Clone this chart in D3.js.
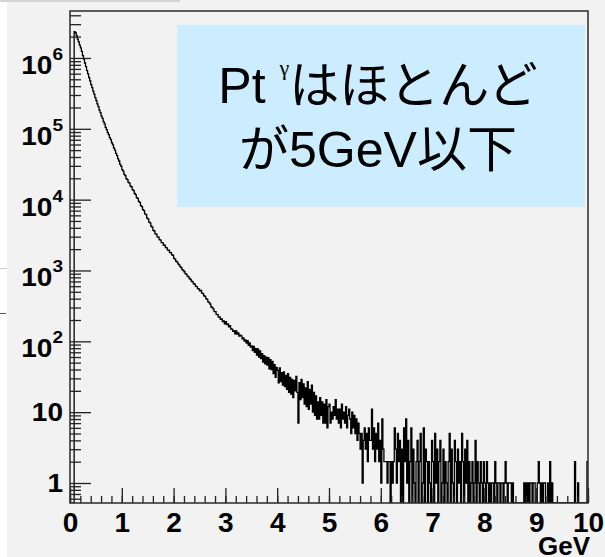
<!DOCTYPE html>
<html lang="ja">
<head>
<meta charset="utf-8">
<script src="https://d3js.org/d3.v7.min.js"></script>
<style>
  body { margin: 0; background: #fff; }
  svg text { font-family: "Liberation Sans", Arial, sans-serif; }
</style>
</head>
<body>
<div id="plot"></div>
<script>
// histogram: 500 bins of 0.02 GeV between 0 and 10 GeV
const xLo = 0, xHi = 10, binWidth = 0.02;
const counts0 = [ // 0 - 1 GeV
  0, 0, 0, 0, 2360000,
  2270000, 2060000, 1840000, 1690000, 1520000,
  1390000, 1240000, 1080000, 965000, 848000,
  755000, 664000, 597000, 528000, 476000,
  421000, 382000, 340000, 309000, 276000,
  251000, 225000, 205000, 184000, 169000,
  151000, 140000, 126000, 117000, 105000,
  97600, 88500, 82600, 75000, 70100,
  63500, 59200, 53600, 49900, 44900,
  41800, 37500, 35100, 31400, 29600];
const counts1 = [ // 1 - 2 GeV
  26500, 25200, 22800, 21800, 19800,
  19200, 17500, 17100, 15500, 15200,
  13800, 13400, 12200, 11800, 10700,
  10400, 9450, 9150, 8250, 7980,
  7210, 7010, 6300, 6130, 5500,
  5360, 4820, 4690, 4210, 4100,
  3680, 3610, 3290, 3250, 2980,
  2950, 2720, 2690, 2480, 2470,
  2290, 2270, 2110, 2090, 1940,
  1930, 1800, 1780, 1660, 1640];
const counts2 = [ // 2 - 3 GeV
  1480, 1450, 1350, 1320, 1240,
  1200, 1130, 1100, 1030, 1000,
  960, 905, 880, 830, 810,
  770, 750, 705, 690, 650,
  640, 600, 592, 555, 548,
  515, 525, 480, 470, 440,
  430, 400, 392, 360, 352,
  335, 305, 300, 285, 262,
  262, 240, 238, 220, 222,
  205, 208, 190, 194, 176];
const counts3 = [ // 3 - 4 GeV
  190, 172, 176, 160, 166,
  150, 148, 138, 141, 127,
  140, 126, 131, 118, 122,
  119, 108, 112, 101, 105,
  94, 102, 88, 95, 83,
  86, 74, 85, 70, 79,
  64, 78, 60, 73, 57,
  67, 51, 63, 48, 60,
  46, 59, 41, 55, 40,
  52, 35, 47, 31, 43];
const counts4 = [ // 4 - 5 GeV
  39, 26, 42, 27, 36,
  24, 37, 23, 33, 21,
  35, 19, 31, 18, 29,
  16, 28, 20, 32, 19,
  7, 26, 15, 29, 16,
  25, 13, 22, 12, 27,
  11, 21, 13, 24, 10,
  19, 9, 17, 8, 14,
  8, 16, 9, 14, 7,
  13, 7, 15, 6, 12];
const counts5 = [ // 5 - 6 GeV
  13, 7, 10, 8, 12,
  9, 15, 8, 11, 7,
  11, 6, 13, 8, 10,
  7, 12, 6, 9, 11,
  8, 5, 10, 6, 9,
  5, 8, 4, 7, 5,
  3, 5, 1, 4, 6,
  3, 5, 2, 6, 4,
  4, 11, 3, 6, 2,
  5, 3, 7, 2, 4];
const counts6 = [ // 6 - 7 GeV
  1, 8, 3, 2, 2,
  2, 1, 2, 2, 0,
  2, 1, 2, 6, 3,
  1, 5, 2, 4, 0,
  3, 0, 6, 2, 8,
  1, 4, 0, 2, 6,
  0, 3, 1, 0, 2,
  4, 0, 2, 5, 0,
  1, 6, 0, 3, 2,
  0, 2, 1, 0, 4];
const counts7 = [ // 7 - 8 GeV
  2, 0, 5, 1, 3,
  0, 2, 4, 0, 1,
  3, 0, 2, 1, 0,
  2, 5, 0, 3, 1,
  0, 4, 2, 0, 3,
  1, 2, 0, 5, 2,
  0, 3, 1, 4, 0,
  2, 0, 1, 2, 0,
  1, 4, 0, 2, 1,
  0, 2, 1, 0, 2];
const counts8 = [ // 8 - 9 GeV
  1, 0, 2, 1, 0,
  1, 0, 1, 1, 0,
  2, 1, 0, 1, 1,
  0, 1, 1, 0, 1,
  2, 1, 0, 1, 1,
  1, 0, 1, 0, 0,
  0, 0, 0, 0, 0,
  0, 0, 0, 1, 0,
  1, 0, 1, 0, 1,
  1, 0, 1, 1, 0];
const counts9 = [ // 9 - 10 GeV
  0, 1, 2, 1, 0,
  1, 0, 1, 1, 0,
  0, 1, 0, 2, 0,
  1, 0, 0, 0, 0,
  0, 0, 0, 0, 0,
  0, 0, 0, 0, 0,
  0, 0, 0, 0, 0,
  0, 0, 2, 0, 0,
  1, 0, 0, 0, 0,
  0, 0, 0, 0, 2];

const xTickValues = [0, 1, 2, 3, 4, 5, 6, 7, 8, 9, 10];
const yMajorValues = [1, 10, 100, 1e3, 1e4, 1e5, 1e6];
const yMajorLabels = [["1", ""], ["10", ""], ["10", "2"], ["10", "3"], ["10", "4"], ["10", "5"], ["10", "6"]];
const xTitle = "GeV";
const noteLine1 = ["Pt ", "γ", "はほとんど"];
const noteLine2 = "が5GeV以下";

const counts = [].concat(counts0, counts1, counts2, counts3, counts4,
                         counts5, counts6, counts7, counts8, counts9);

// layout
const W = 605, H = 557;
const frame = {left: 70, right: 588, top: 11, bottom: 503};
const yMin = 0.522, yMax = 4.6e6;

const svg = d3.select("#plot").append("svg")
  .attr("width", W).attr("height", H);

// slide background bits
svg.append("rect").attr("x", 0).attr("y", 0).attr("width", W).attr("height", H).attr("fill", "#fff");
svg.append("rect").attr("x", 7).attr("y", 0).attr("width", W - 7).attr("height", H).attr("fill", "#f2f2f2");
svg.append("rect").attr("x", 0).attr("y", 0).attr("width", 180).attr("height", 2).attr("fill", "#d4d4d4");
svg.append("line").attr("x1", 0).attr("x2", 7).attr("y1", 268.5).attr("y2", 268.5).attr("stroke", "#ccc");
svg.append("line").attr("x1", 0).attr("x2", 6).attr("y1", 313.5).attr("y2", 313.5).attr("stroke", "#555");

const x = d3.scaleLinear().domain([xLo, xHi]).range([frame.left, frame.right]);
const y = d3.scaleLog().domain([yMin, yMax]).range([frame.bottom, frame.top]);

svg.append("clipPath").attr("id", "clip")
  .append("rect")
    .attr("x", frame.left).attr("y", frame.top)
    .attr("width", frame.right - frame.left).attr("height", frame.bottom - frame.top);

// histogram outline
const pts = counts.map((c, i) => [x(xLo + i * binWidth), y(Math.max(c, yMin))]);
pts.push([x(xHi), y(Math.max(counts[counts.length - 1], yMin))]);
svg.append("path")
  .attr("clip-path", "url(#clip)")
  .attr("d", d3.line().curve(d3.curveStepAfter)(pts))
  .attr("fill", "none")
  .attr("stroke", "#000")
  .attr("stroke-width", 1.3);

// x axis: ticks pointing up, labels below
const xAxis = svg.append("g")
  .attr("transform", `translate(0,${frame.bottom})`)
  .call(d3.axisBottom(x).tickValues(x.ticks(50)).tickSizeInner(-7).tickSizeOuter(0).tickFormat(""));
const xAxisMajor = svg.append("g")
  .attr("transform", `translate(0,${frame.bottom})`)
  .call(d3.axisBottom(x).tickValues(xTickValues).tickSizeInner(-15).tickSizeOuter(0).tickPadding(9)
        .tickFormat(d => String(d)));
xAxisMajor.selectAll("text")
  .attr("font-size", 28).attr("font-weight", "bold").attr("fill", "#000")
  .style("font-family", "'Liberation Sans', Arial, sans-serif");
[xAxis, xAxisMajor].forEach(g => {
  g.select(".domain").remove();
  g.selectAll("line").attr("stroke", "#222").attr("stroke-width", 1.3);
});

// y axis: ticks pointing right
const yMinor = y.ticks().filter(v => !yMajorValues.includes(v));
const yAxisMinor = svg.append("g")
  .attr("transform", `translate(${frame.left},0)`)
  .call(d3.axisLeft(y).tickValues(yMinor).tickSizeInner(-11).tickSizeOuter(0).tickFormat(""));
const yAxisMajor = svg.append("g")
  .attr("transform", `translate(${frame.left},0)`)
  .call(d3.axisLeft(y).tickValues(yMajorValues).tickSizeInner(-21).tickSizeOuter(0).tickFormat(""));
[yAxisMinor, yAxisMajor].forEach(g => {
  g.select(".domain").remove();
  g.selectAll("line").attr("stroke", "#222").attr("stroke-width", 1.3);
});

yMajorValues.forEach((v, i) => {
  const [base, sup] = yMajorLabels[i];
  const yy = y(v);
  const g = svg.append("g")
    .attr("transform", `translate(63,${sup ? yy + 16 : yy + 9}) scale(1.12,1)`);
  const t = g.append("text")
    .attr("text-anchor", "end")
    .attr("font-size", 25).attr("font-weight", "bold").attr("fill", "#000");
  t.append("tspan").text(base);
  if (sup) t.append("tspan").attr("dy", -14).attr("font-size", 17).text(sup);
});

// frame
svg.append("rect")
  .attr("x", frame.left).attr("y", frame.top)
  .attr("width", frame.right - frame.left).attr("height", frame.bottom - frame.top)
  .attr("fill", "none").attr("stroke", "#2a2a2a").attr("stroke-width", 1.5);

svg.append("text")
  .attr("x", 590).attr("y", 555)
  .attr("text-anchor", "end")
  .attr("font-size", 26).attr("font-weight", "bold").attr("fill", "#000")
  .text(xTitle);

// annotation box
svg.append("rect")
  .attr("x", 177).attr("y", 25).attr("width", 408).attr("height", 182)
  .attr("fill", "#ccecff");
const note = svg.append("text")
  .attr("x", 378).attr("text-anchor", "middle")
  .attr("font-size", 50).attr("fill", "#000")
  .style("font-family", "'Liberation Sans', 'Noto Sans CJK JP', sans-serif");
const l1 = note.append("tspan").attr("x", 378).attr("y", 103);
l1.append("tspan").text(noteLine1[0]);
l1.append("tspan").attr("dy", -28).attr("font-size", 22)
  .style("font-family", "'Liberation Serif', serif").text(noteLine1[1]);
l1.append("tspan").attr("dy", 28).text(noteLine1[2]);
note.append("tspan").attr("x", 378).attr("y", 167).text(noteLine2);
</script>
</body>
</html>
